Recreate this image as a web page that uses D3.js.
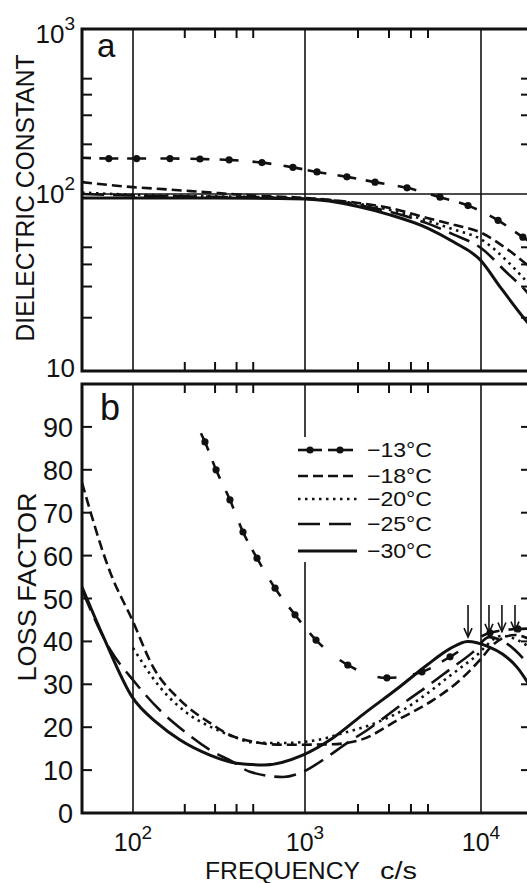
<!DOCTYPE html>
<html><head><meta charset="utf-8">
<script src="https://cdn.jsdelivr.net/npm/d3@7"></script>
<style>body{margin:0;background:#fff}svg{display:block}text{font-family:"Liberation Sans",Arial,sans-serif;fill:#111}</style>
</head><body>
<script>
// ---------- data ----------
const seriesLabels = ["\u221213\u00b0C", "\u221218\u00b0C", "\u221220\u00b0C", "\u221225\u00b0C", "\u221230\u00b0C"];
// panel a : dielectric constant
const fA13 = [50, 72, 105, 164, 245, 362, 562, 851, 1170, 1730, 2500, 3800, 5850, 8440, 12500, 17300, 20000];
const vA13 = [166, 164, 164, 164, 163, 161, 155, 145, 136, 127, 118, 109, 96, 86, 71, 57, 52];
const fA18 = [50, 100, 150, 250, 500, 1000, 2000, 3000, 5000, 7000, 10000, 14000, 18200, 20000];
const vA18 = [118, 110, 107, 103, 98, 95, 89, 83.5, 73, 67, 60.5, 49, 40, 37];
const fA20 = [50, 100, 300, 1000, 2000, 3000, 5000, 7000, 10000, 14000, 18200, 20000];
const vA20 = [102, 99, 97, 94.5, 88, 81.5, 70.5, 63, 55.5, 42, 32, 29];
const fA25 = [50, 100, 300, 1000, 2000, 3000, 5000, 7000, 10000, 14000, 18200, 20000];
const vA25 = [100, 98, 96.5, 94, 87, 79.5, 68, 59, 49.5, 36, 28, 25];
const fA30 = [50, 100, 300, 1000, 2000, 3000, 5000, 7000, 10000, 12800, 18200, 20000];
const vA30 = [95, 95, 95, 93.6, 85, 76.5, 64, 53.5, 42, 30, 19, 17];
// panel b : loss factor
const fB13 = [245, 262, 304, 366, 436, 526, 670, 875, 1155, 1750, 2920, 4620, 6670, 11250, 16200, 20000];
const vB13 = [89, 86.5, 80, 73, 65.5, 59.4, 52.4, 46.2, 40.3, 34.5, 31.5, 32.9, 36.4, 42, 42.9, 43];
const fB18 = [50, 73.5, 99, 131, 188, 280, 391, 745, 1390, 2050, 3470, 5340, 7600, 9870, 11700, 15600, 20000];
const vB18 = [77, 56, 45, 34, 26.3, 21, 17.7, 15.9, 16, 17, 22, 26.3, 31, 35.7, 39.2, 41.5, 40];
const fB20 = [100, 143, 206, 292, 403, 478, 745, 1170, 1640, 2340, 3600, 5000, 6670, 9000, 13150, 20000];
const vB20 = [38.5, 29.4, 23.3, 19.8, 17.5, 16.5, 16.3, 17, 18.6, 20.5, 24, 28, 32, 36, 41.3, 38];
const fB25 = [50, 73.5, 100, 143, 195, 280, 381, 478, 745, 973, 1330, 1730, 2250, 3600, 4940, 6670, 9000, 11100, 14000, 20000];
const vB25 = [52, 38, 31, 24, 19.3, 14.7, 11.9, 9.6, 8.4, 9.6, 13, 16.3, 19.3, 25.5, 29.5, 33.5, 37.5, 41, 39.5, 33];
const fB30 = [50, 67, 99, 138, 188, 280, 400, 580, 970, 1440, 2140, 3470, 4940, 6600, 8400, 11000, 13300, 16000, 20000];
const vB30 = [52.7, 41, 27, 21, 17, 13.5, 11.6, 11.2, 13.5, 17.5, 23, 29.5, 34.5, 38.2, 40, 38.8, 37, 34, 28];
// peak arrows (panel b)
const arrowFreq = [8440, 11100, 13150, 15600];
const arrowTip = [41, 42, 42.3, 42.5];
const arrowTop = 48.5;
// ticks
const xMajor = [100, 1000, 10000];
const xMinor = [200, 300, 400, 500, 2000, 3000, 4000, 5000, 20000, 30000];
const yAMajor = [10, 100, 1000];
const yAMinor = [20, 30, 40, 50, 200, 300, 400, 500];
const yBTicks = [10, 20, 30, 40, 50, 60, 70, 80, 90];
const yBLabels = [0, 10, 20, 30, 40, 50, 60, 70, 80, 90];

// ---------- scales ----------
const x = d3.scaleLog().domain([50, 100, 1000, 10000]).range([82, 133, 305, 481]);
const yA = d3.scaleLog().domain([10, 100, 1000]).range([371, 194, 29]);
const yB = d3.scaleLinear().domain([0, 100]).range([813, 384]);
const X0 = 82, X1 = 531;

const svg = d3.select("body").append("svg").attr("width", 527).attr("height", 883);
const ink = "#111";

// clip paths
const defs = svg.append("defs");
defs.append("clipPath").attr("id", "ca").append("rect").attr("x", X0).attr("y", yA(1000)).attr("width", X1 - X0).attr("height", yA(10) - yA(1000));
defs.append("clipPath").attr("id", "cb").append("rect").attr("x", X0).attr("y", yB(100)).attr("width", X1 - X0).attr("height", yB(0) - yB(100));

// ---------- grid ----------
const grid = svg.append("g").attr("stroke", ink).attr("stroke-width", 1.6);
xMajor.forEach(f => {
  grid.append("line").attr("x1", x(f)).attr("x2", x(f)).attr("y1", yA(1000)).attr("y2", yA(10));
  grid.append("line").attr("x1", x(f)).attr("x2", x(f)).attr("y1", yB(100)).attr("y2", yB(0));
});
grid.append("line").attr("x1", X0).attr("x2", X1).attr("y1", yA(100)).attr("y2", yA(100));

// ---------- frames ----------
const frame = svg.append("g").attr("stroke", ink).attr("stroke-width", 3).attr("fill", "none");
frame.append("rect").attr("x", X0).attr("y", yA(1000)).attr("width", X1 - X0).attr("height", yA(10) - yA(1000));
frame.append("rect").attr("x", X0).attr("y", yB(100)).attr("width", X1 - X0).attr("height", yB(0) - yB(100));

// ---------- ticks ----------
const tk = svg.append("g").attr("stroke", ink).attr("stroke-width", 2);
const TL = 9;
xMinor.forEach(f => {
  const px = x(f);
  [[yA(1000), 1], [yA(10), -1], [yB(100), 1], [yB(0), -1]].forEach(([y0, d]) =>
    tk.append("line").attr("x1", px).attr("x2", px).attr("y1", y0).attr("y2", y0 + d * TL));
});
yAMinor.forEach(v => {
  tk.append("line").attr("x1", X0).attr("x2", X0 + 10).attr("y1", yA(v)).attr("y2", yA(v));
  tk.append("line").attr("x1", X1).attr("x2", X1 - 10).attr("y1", yA(v)).attr("y2", yA(v));
});
yBTicks.forEach(v => {
  tk.append("line").attr("x1", X0).attr("x2", X0 + 10).attr("y1", yB(v)).attr("y2", yB(v));
  tk.append("line").attr("x1", X1).attr("x2", X1 - 10).attr("y1", yB(v)).attr("y2", yB(v));
});

// ---------- tick labels ----------
yAMajor.forEach(v => {
  const e = Math.round(Math.log10(v));
  const base = Math.min(Math.max(yA(v) + 9, 43), 377);
  const t = svg.append("text").attr("x", 75).attr("y", base).attr("text-anchor", "end").attr("font-size", 26);
  t.append("tspan").text("10");
  if (e > 1) t.append("tspan").attr("dy", -13).attr("font-size", 19).text(e);
});
yBLabels.forEach(v => {
  svg.append("text").attr("x", 73).attr("y", yB(v) + 10).attr("text-anchor", "end").attr("font-size", 27).text(v);
});
xMajor.forEach(f => {
  const e = Math.round(Math.log10(f));
  const t = svg.append("text").attr("x", x(f)).attr("y", 851).attr("text-anchor", "middle").attr("font-size", 25);
  t.append("tspan").text("10");
  t.append("tspan").attr("dy", -12).attr("font-size", 19).text(e);
});

// ---------- titles ----------
svg.append("text").attr("transform", "translate(34,198) rotate(-90)").attr("text-anchor", "middle")
  .attr("font-size", 25).attr("textLength", 287).attr("lengthAdjust", "spacingAndGlyphs").text("DIELECTRIC CONSTANT");
svg.append("text").attr("transform", "translate(36,587) rotate(-90)").attr("text-anchor", "middle")
  .attr("font-size", 25).attr("textLength", 189).attr("lengthAdjust", "spacingAndGlyphs").text("LOSS FACTOR");
svg.append("text").attr("x", 205).attr("y", 879).attr("font-size", 23).attr("textLength", 155).attr("lengthAdjust", "spacingAndGlyphs").text("FREQUENCY");
svg.append("text").attr("x", 380).attr("y", 879).attr("font-size", 23).attr("textLength", 37).attr("lengthAdjust", "spacingAndGlyphs").text("c/s");
svg.append("text").attr("x", 97).attr("y", 57).attr("font-size", 33).text("a");
svg.append("text").attr("x", 100).attr("y", 420).attr("font-size", 36).text("b");

// ---------- curves ----------
const styles = [
  { dash: null, w: 2.6 },          // -13 (custom dashes + markers)
  { dash: "10,5", w: 2.6 },        // -18
  { dash: "2.5,4.5", w: 2.6 },     // -20
  { dash: "22,9", w: 2.6 },        // -25
  { dash: null, w: 3 }             // -30
];
function lenAtX(node, px) {
  let lo = 0, hi = node.getTotalLength();
  for (let i = 0; i < 40; i++) {
    const m = (lo + hi) / 2;
    if (node.getPointAtLength(m).x < px) lo = m; else hi = m;
  }
  return (lo + hi) / 2;
}
function drawPanel(clip, ys, sets) {
  const g = svg.append("g").attr("clip-path", `url(#${clip})`);
  sets.forEach(([fs, vs], i) => {
    const pts = fs.map((f, k) => [x(f), ys(vs[k])]);
    const line = d3.line().curve(d3.curveMonotoneX);
    const p = g.append("path").attr("d", line(pts)).attr("fill", "none").attr("stroke", ink)
      .attr("stroke-width", styles[i].w).attr("stroke-linejoin", "round");
    if (styles[i].dash) p.attr("stroke-dasharray", styles[i].dash);
    if (i === 0) {
      const node = p.node(), total = node.getTotalLength(), half = 9.5;
      const marks = pts.slice(1, -1);
      let arr = [0], pos = 0;
      const segs = [];
      if (clip === "ca") segs.push([0, 9]);
      marks.forEach(m => { const L = lenAtX(node, m[0]); segs.push([Math.max(pos, L - half), L + half]); });
      segs.forEach(([s, e]) => { const ss = Math.max(s, pos); arr.push(ss - pos, e - ss); pos = e; });
      arr.push(total - pos + 1000);
      p.attr("stroke-dasharray", arr.join(","));
      g.selectAll(null).data(marks).join("circle").attr("cx", d => d[0]).attr("cy", d => d[1]).attr("r", 3.6).attr("fill", ink);
    }
  });
}
drawPanel("ca", yA, [[fA13, vA13], [fA18, vA18], [fA20, vA20], [fA25, vA25], [fA30, vA30]]);
drawPanel("cb", yB, [[fB13, vB13], [fB18, vB18], [fB20, vB20], [fB25, vB25], [fB30, vB30]]);

// ---------- arrows ----------
const ar = svg.append("g").attr("stroke", ink).attr("stroke-width", 1.6).attr("fill", "none");
arrowFreq.forEach((f, i) => {
  const px = x(f), y0 = yB(arrowTop), y1 = yB(arrowTip[i]);
  ar.append("line").attr("x1", px).attr("x2", px).attr("y1", y0).attr("y2", y1);
  ar.append("path").attr("d", `M${px - 4},${y1 - 9}L${px},${y1}L${px + 4},${y1 - 9}`);
});

// ---------- legend ----------
const rowY = [450, 476, 499, 524, 551];
svg.append("rect").attr("x", 292).attr("y", 437).attr("width", 150).attr("height", 125).attr("fill", "#fff");
const lg = svg.append("g");
seriesLabels.forEach((lab, i) => {
  const y = rowY[i];
  if (i === 0) {
    [[298, 322, 310], [328, 353, 340]].forEach(([a, b, c]) => {
      lg.append("line").attr("x1", a).attr("x2", b).attr("y1", y).attr("y2", y).attr("stroke", ink).attr("stroke-width", 2.6);
      lg.append("circle").attr("cx", c).attr("cy", y).attr("r", 3.6).attr("fill", ink);
    });
  } else {
    const l = lg.append("line").attr("x1", 298).attr("x2", 357).attr("y1", y).attr("y2", y)
      .attr("stroke", ink).attr("stroke-width", styles[i].w);
    if (styles[i].dash) l.attr("stroke-dasharray", styles[i].dash);
  }
  lg.append("text").attr("x", 367).attr("y", y + 7).attr("font-size", 21)
    .attr("textLength", 65).attr("lengthAdjust", "spacingAndGlyphs").text(lab);
});
</script>
</body></html>
